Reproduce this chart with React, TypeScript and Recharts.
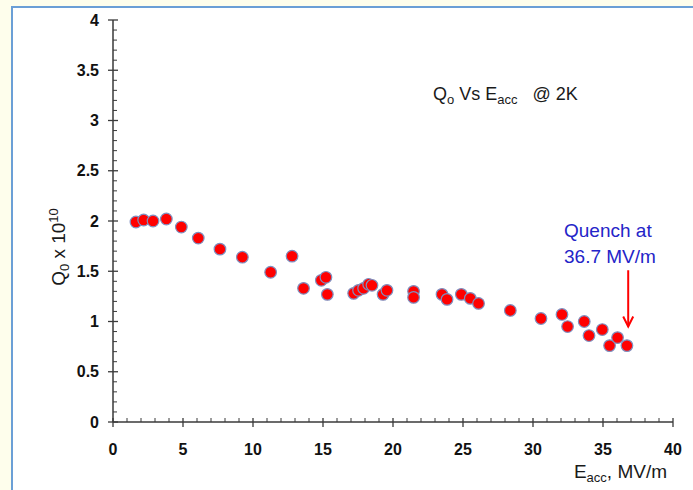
import React from "react";
import { ScatterChart, Scatter, XAxis, YAxis, ReferenceLine } from "recharts";

const eacc = [1.64, 2.19, 2.86, 3.81, 4.88, 6.09, 7.64, 9.24, 11.26, 12.79, 13.61, 14.88, 15.21, 15.31, 17.19, 17.54, 17.9, 18.26, 18.5, 19.29, 19.57, 21.47, 21.47, 23.5, 23.86, 24.88, 25.52, 26.11, 28.38, 30.57, 32.07, 32.47, 33.66, 34.0, 34.95, 35.47, 36.04, 36.71];
const q0 = [1.99, 2.01, 2.0, 2.02, 1.94, 1.83, 1.72, 1.64, 1.49, 1.65, 1.33, 1.41, 1.44, 1.27, 1.28, 1.31, 1.33, 1.37, 1.36, 1.27, 1.31, 1.3, 1.24, 1.27, 1.22, 1.27, 1.23, 1.18, 1.11, 1.03, 1.07, 0.95, 1.0, 0.86, 0.92, 0.76, 0.84, 0.76];

const xMajorTicks = [0, 5, 10, 15, 20, 25, 30, 35, 40];
const yMajorTicks = [0, 0.5, 1, 1.5, 2, 2.5, 3, 3.5, 4];
const xAllTicks = Array.from({ length: 41 }, (_, i) => i);
const yAllTicks = Array.from({ length: 41 }, (_, i) => i / 10);

const quenchX = 36.8;
const arrowTop = 1.51;
const arrowBottom = 0.95;

const data = eacc.map((x, i) => ({ x, y: q0[i] }));

const AXIS = "#3a3a3a";
const FONT = "'Liberation Sans', Arial, sans-serif";

const isMajor = (v: number, majors: number[]) => majors.some((m) => Math.abs(m - v) < 1e-6);

const XTick = (props: any) => {
  const { x, y, payload } = props;
  const major = isMajor(payload.value, xMajorTicks);
  return (
    <g>
      {major ? (
        <line x1={x} x2={x} y1={y - 4} y2={y + 5} stroke={AXIS} strokeWidth={1.3} />
      ) : (
        <line x1={x} x2={x} y1={y - 4} y2={y} stroke={AXIS} strokeWidth={1} />
      )}
      {major && (
        <text x={x} y={y + 33} textAnchor="middle" fontSize={16} fontWeight="bold" fontFamily={FONT} fill="#111">
          {payload.value}
        </text>
      )}
    </g>
  );
};

const YTick = (props: any) => {
  const { x, y, payload } = props;
  const major = isMajor(payload.value, yMajorTicks);
  return (
    <g>
      {major ? (
        <line x1={x - 5} x2={x + 5} y1={y} y2={y} stroke={AXIS} strokeWidth={1.3} />
      ) : (
        <line x1={x} x2={x + 4} y1={y} y2={y} stroke={AXIS} strokeWidth={1} />
      )}
      {major && (
        <text x={x - 14} y={y + 5.7} textAnchor="end" fontSize={16} fontWeight="bold" fontFamily={FONT} fill="#111">
          {payload.value}
        </text>
      )}
    </g>
  );
};

const Dot = (props: any) => {
  const { cx, cy } = props;
  return <circle cx={cx} cy={cy} r={5.8} fill="#ff0000" stroke="#7f8fbf" strokeWidth={1.2} />;
};

const Arrow = (props: any) => {
  const { x1, y1, x2, y2 } = props;
  const tipY = Math.max(y1, y2);
  const topY = Math.min(y1, y2);
  return (
    <g>
      <line x1={x1} x2={x2} y1={topY} y2={tipY} stroke="#ff0000" strokeWidth={2} />
      <polyline points={`${x2 - 5},${tipY - 10} ${x2},${tipY} ${x2 + 5},${tipY - 10}`} fill="none" stroke="#ff0000" strokeWidth={2} />
    </g>
  );
};

export default function App() {
  return (
    <div style={{ position: "absolute", left: 0, top: 0, width: 693, height: 490, background: "#fefeec", overflow: "hidden" }}>
      <div
        style={{
          position: "absolute",
          left: 11,
          top: 6,
          right: 0,
          bottom: 0,
          background: "#ffffff",
          borderLeft: "2px solid #6b9fd6",
          borderTop: "2px solid #6b9fd6",
        }}
      />
      <div style={{ position: "absolute", left: 0, top: 0 }}>
        <ScatterChart width={693} height={490} margin={{ top: 20, right: 20, bottom: 0, left: 0 }}>
          <XAxis
            type="number"
            dataKey="x"
            domain={[0, 40]}
            ticks={xAllTicks}
            interval={0}
            tick={<XTick />}
            tickLine={false}
            tickSize={0}
            tickMargin={0}
            height={68}
            axisLine={{ stroke: AXIS, strokeWidth: 1.5 }}
            allowDataOverflow
          />
          <YAxis
            type="number"
            dataKey="y"
            domain={[0, 4]}
            ticks={yAllTicks}
            interval={0}
            tick={<YTick />}
            tickLine={false}
            tickSize={0}
            tickMargin={0}
            width={113}
            axisLine={{ stroke: AXIS, strokeWidth: 1.5 }}
            allowDataOverflow
          />
          <ReferenceLine
            segment={[
              { x: quenchX, y: arrowTop },
              { x: quenchX, y: arrowBottom },
            ]}
            stroke="#ff0000"
            shape={<Arrow />}
            ifOverflow="visible"
          />
          <Scatter data={data} shape={<Dot />} isAnimationActive={false} />
        </ScatterChart>
      </div>
      <svg width={693} height={490} style={{ position: "absolute", left: 0, top: 0, pointerEvents: "none" }} fontFamily={FONT}>
        <text x={433} y={100} fontSize={18} fill="#1a1a1a">
          Q<tspan fontSize={13} dy={4}>o</tspan>
          <tspan dy={-4}> Vs E</tspan>
          <tspan fontSize={13} dy={4}>acc</tspan>
          <tspan dy={-4} xmlSpace="preserve">{"   @ 2K"}</tspan>
        </text>
        <text transform="translate(65,247) rotate(-90)" textAnchor="middle" fontSize={19} fill="#1a1a1a">
          Q<tspan fontSize={13} dy={4}>0</tspan>
          <tspan dy={-4}> x 10</tspan>
          <tspan fontSize={13} dy={-7}>10</tspan>
        </text>
        <text x={667} y={478} textAnchor="end" fontSize={19} fill="#1a1a1a">
          E<tspan fontSize={13} dy={4}>acc</tspan>
          <tspan dy={-4}>, MV/m</tspan>
        </text>
        <text x={564} y={237} fontSize={19} fill="#2424c8">Quench at</text>
        <text x={564} y={263} fontSize={19} fill="#2424c8">36.7 MV/m</text>
      </svg>
    </div>
  );
}
